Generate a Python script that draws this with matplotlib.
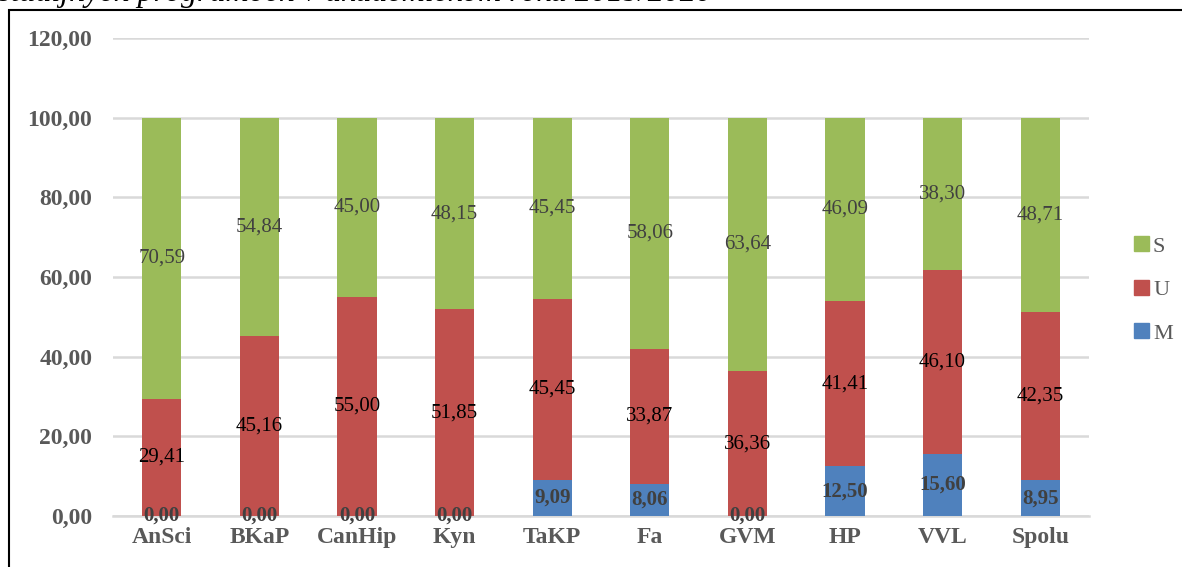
import numpy as np
import matplotlib
matplotlib.use('Agg')
import matplotlib.pyplot as plt
from matplotlib.patches import Rectangle, Patch

# =============================
# DATA
# =============================
programy = ["AnSci", "BKaP", "CanHip", "Kyn", "TaKP", "Fa", "GVM", "HP", "VVL", "Spolu"]
hodnoty_M = [0.00, 0.00, 0.00, 0.00, 9.09, 8.06, 0.00, 12.50, 15.60, 8.95]
hodnoty_U = [29.41, 45.16, 55.00, 51.85, 45.45, 33.87, 36.36, 41.41, 46.10, 42.35]
hodnoty_S = [70.59, 54.84, 45.00, 48.15, 45.45, 58.06, 63.64, 46.09, 38.30, 48.71]
y_ticks = [0, 20, 40, 60, 80, 100, 120]

FARBA_M = "#4F81BD"
FARBA_U = "#C0504D"
FARBA_S = "#9BBB59"
SERIF = ["Liberation Serif", "DejaVu Serif"]

def ciarka(v):
    return f"{v:.2f}".replace(".", ",")

# =============================
# GRAF
# =============================
plt.rcParams['font.family'] = SERIF
fig = plt.figure(figsize=(11.82, 5.67), dpi=100)
ax = fig.add_axes([113 / 1182, 51 / 567, 976 / 1182, 478 / 567])

x = np.arange(len(programy))
M = np.array(hodnoty_M)
U = np.array(hodnoty_U)
S = np.array(hodnoty_S)
sirka = 0.4

ax.bar(x, M, sirka, color=FARBA_M, zorder=3)
ax.bar(x, U, sirka, bottom=M, color=FARBA_U, zorder=3)
ax.bar(x, S, sirka, bottom=M + U, color=FARBA_S, zorder=3)

for i in range(len(programy)):
    ax.text(x[i], M[i] / 2, ciarka(M[i]), ha="center", va="center",
            fontsize=15, fontweight="bold", color="#404040", zorder=4)
    ax.text(x[i], M[i] + U[i] / 2, ciarka(U[i]), ha="center", va="center",
            fontsize=15, color="black", zorder=4)
    ax.text(x[i], M[i] + U[i] + S[i] / 2, ciarka(S[i]), ha="center", va="center",
            fontsize=15, color="#404040", zorder=4)

ax.set_xlim(-0.5, len(programy) - 0.5)
ax.set_ylim(0, 120)
ax.set_yticks(y_ticks)
ax.set_yticklabels([ciarka(v) for v in y_ticks], fontsize=17, fontweight="bold", color="#595959")
ax.set_xticks(x)
ax.set_xticklabels(programy, fontsize=17, fontweight="bold", color="#595959")
ax.tick_params(axis="both", length=0)
ax.tick_params(axis="y", pad=15)
ax.tick_params(axis="x", pad=8)
ax.grid(axis="y", color="#D9D9D9", linewidth=1.8, zorder=0)
for s in ["top", "right", "left"]:
    ax.spines[s].set_visible(False)
ax.spines["bottom"].set_color("#D9D9D9")
ax.spines["bottom"].set_linewidth(1.8)

# legenda
handles = [Patch(color=FARBA_S), Patch(color=FARBA_U), Patch(color=FARBA_M)]
fig.legend(handles, ["S", "U", "M"], loc="center left",
           bbox_to_anchor=(1123 / 1182, 0.4885), frameon=False,
           handlelength=0.65, handleheight=0.65, handletextpad=0.2,
           labelspacing=1.05, borderpad=0, prop={"family": SERIF, "size": 16},
           labelcolor="#595959")

# ramik okolo grafu
fig.patches.append(Rectangle((8.5 / 1182, -0.1), 1.2, 1.1 - 9.5 / 567,
                             transform=fig.transFigure, fill=False,
                             edgecolor="black", linewidth=1.5))

# odrezany nadpis nad grafom
fig.text(712 / 1182, 565.5 / 567, "študijných programoch v akademickom roku 2019/2020",
         ha="right", va="baseline", fontsize=23, style="italic", color="black")

plt.savefig("out.png", dpi=100)
